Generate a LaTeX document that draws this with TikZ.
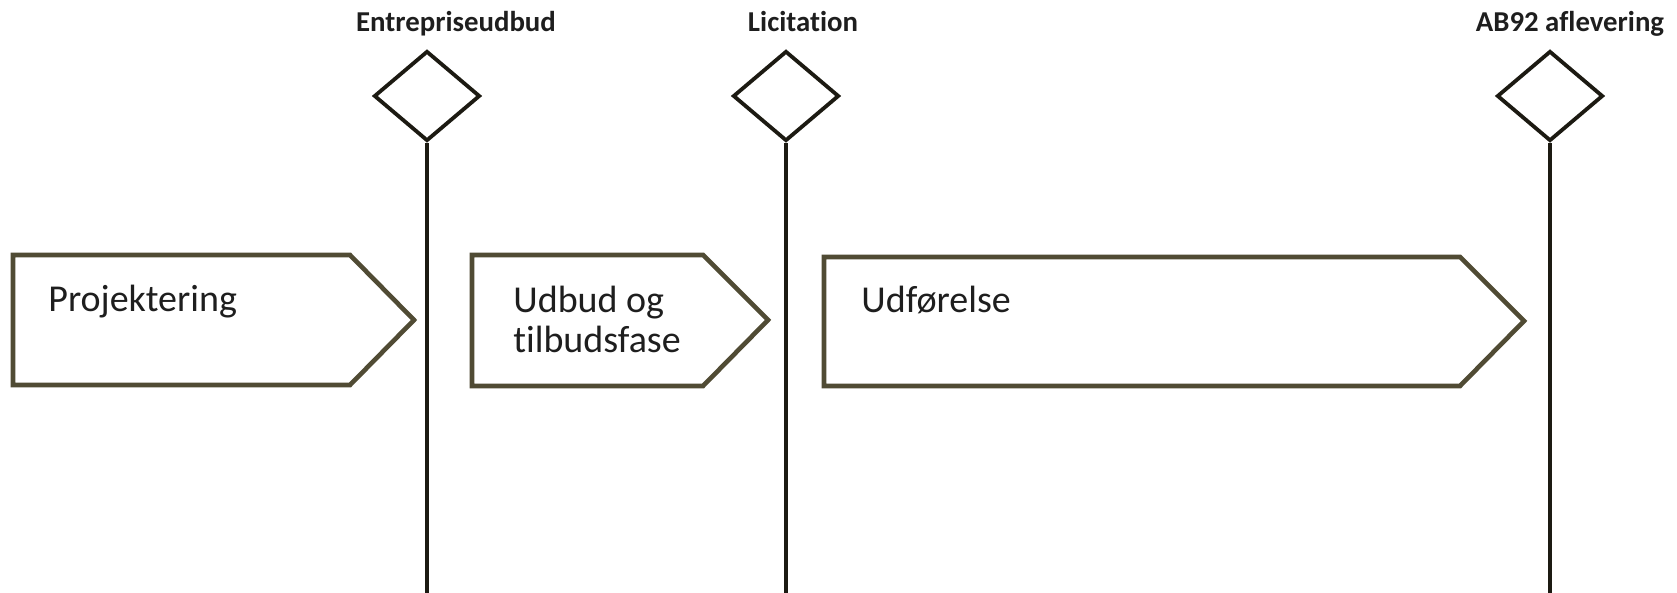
\documentclass[tikz,border=0pt]{standalone}
\usepackage{fontspec}
\setmainfont[Ligatures=NoCommon]{Carlito}
\usetikzlibrary{shapes.geometric}
\definecolor{boxline}{RGB}{80,75,52}
\definecolor{milestone}{RGB}{28,26,18}
\definecolor{txt}{RGB}{30,30,30}
\tikzset{
  phase/.style={draw=boxline, line width=2.3pt, line join=miter, fill=white},
  phasetext/.style={anchor=base west, inner sep=0pt, text=txt, font=\fontsize{19}{20.5}\selectfont, align=left},
  gate/.style={draw=milestone, line width=1.9pt, shape=diamond, minimum width=53pt, minimum height=45pt, inner sep=0pt},
  gateline/.style={draw=milestone, line width=1.7pt},
  gatelabel/.style={anchor=base, inner sep=0pt, text=txt, font=\bfseries\fontsize{14.4}{16}\selectfont}
}
\begin{document}
\begin{tikzpicture}[x=0.5pt, y=-0.5pt]
\useasboundingbox (0,0) rectangle (1677,593);
% phases
\draw[phase] (13,255) -- (350,255) -- (414,320) -- (350,385) -- (13,385) -- cycle;
\draw[phase] (472,255) -- (703,255) -- (768,320) -- (703,386) -- (472,386) -- cycle;
\draw[phase] (824,257) -- (1460,257) -- (1524,321) -- (1460,386) -- (824,386) -- cycle;
\node[phasetext] (p1) at (48,312) {Projektering};
\node[phasetext] (p2) at (513,353) {Udbud og\\tilbudsfase};
\node[phasetext] (p3) at (861,313) {Udførelse};
% milestones
\node[gate] (d1) at (427,96) {};
\node[gate] (d2) at (786,96) {};
\node[gate] (d3) at (1550,96) {};
\coordinate (e1) at (427,593);
\coordinate (e2) at (786,593);
\coordinate (e3) at (1550,593);
\draw[gateline] (d1.south) -- (e1);
\draw[gateline] (d2.south) -- (e2);
\draw[gateline] (d3.south) -- (e3);
\node[gatelabel] (l1) at (456,32) {Entrepriseudbud};
\node[gatelabel] (l2) at (803,32) {Licitation};
\node[gatelabel] (l3) at (1570,32) {AB92 aflevering};
\end{tikzpicture}
\end{document}
